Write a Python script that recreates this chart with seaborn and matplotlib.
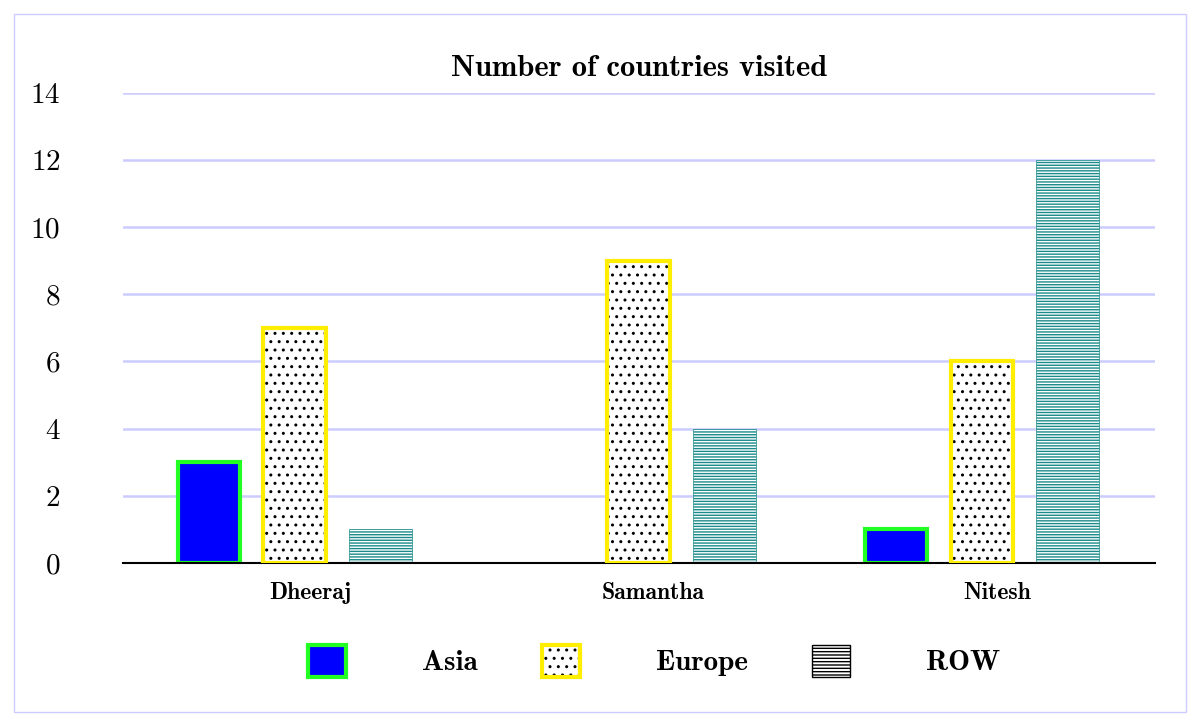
import matplotlib
matplotlib.use("Agg")
import matplotlib.pyplot as plt
import seaborn as sns
import pandas as pd
from matplotlib.patches import Patch, Rectangle

people = ["Dheeraj", "Samantha", "Nitesh"]
regions = ["Asia", "Europe", "ROW"]
asia = [3, 0, 1]
europe = [7, 9, 6]
row = [1, 4, 12]

df = pd.DataFrame({
    "person": people * 3,
    "region": ["Asia"] * 3 + ["Europe"] * 3 + ["ROW"] * 3,
    "count": asia + europe + row,
})

sns.set_style("white")
plt.rcParams["font.family"] = ["cmr10", "DejaVu Serif"]
plt.rcParams["axes.formatter.use_mathtext"] = True
plt.rcParams["hatch.linewidth"] = 1.0
plt.rcParams["text.color"] = "black"
plt.rcParams["xtick.color"] = "black"
plt.rcParams["ytick.color"] = "black"

fig = plt.figure(figsize=(12, 7.26), dpi=100)
ax = fig.add_axes([0.1025, 0.2245, 0.86, 0.648])

sns.barplot(data=df, x="person", y="count", hue="region", order=people,
            hue_order=regions, width=0.75, gap=0.27, legend=False, ax=ax,
            errorbar=None)

styles = {
    "Asia": dict(face="#0000ff", edge="#22ff22", hatch=None),
    "Europe": dict(face="white", edge="#ffee00", hatch=".."),
    "ROW": dict(face="white", edge="#1a8a8a", hatch="------"),
}
for cont, reg in zip(ax.containers, regions):
    st = styles[reg]
    for p in cont:
        if p.get_height() == 0:
            p.set_visible(False)
            continue
        if reg == "Asia":
            p.set_facecolor(st["face"]); p.set_edgecolor(st["edge"]); p.set_linewidth(3)
        elif reg == "Europe":
            p.set_facecolor("white"); p.set_edgecolor("black"); p.set_linewidth(0)
            p.set_hatch(st["hatch"])
            ax.add_patch(Rectangle(p.get_xy(), p.get_width(), p.get_height(),
                                   fill=False, edgecolor=st["edge"], linewidth=3, zorder=3))
        else:
            p.set_facecolor("white"); p.set_edgecolor(st["edge"]); p.set_linewidth(0.5)
            p.set_hatch(st["hatch"])

ax.set_xlim(-0.5, 2.504)
ax.set_xticks([0.044, 1.044, 2.044], people)
ax.set_ylim(0, 14)
ax.set_yticks(range(0, 15, 2))
ax.yaxis.grid(True, color="#ccccff", linewidth=1.8)
ax.set_axisbelow(True)
for s in ["left", "right", "top"]:
    ax.spines[s].set_visible(False)
ax.spines["bottom"].set_color("black")
ax.spines["bottom"].set_linewidth(1.5)
ax.tick_params(axis="both", length=0, labelsize=21)
ax.tick_params(axis="y", pad=45)
ax.tick_params(axis="x", pad=14)
for lbl in ax.get_xticklabels():
    lbl.set_fontfamily(["cmb10", "DejaVu Serif"])
    lbl.set_fontsize(17)
ax.set_xlabel("")
ax.set_ylabel("")
ax.set_title("Number of countries visited", fontsize=22, family=["cmb10", "DejaVu Serif"],
             pad=12, color="black")

handles = [
    Patch(facecolor="#0000ff", edgecolor="#22ff22", linewidth=3),
    (Patch(facecolor="white", edgecolor="black", linewidth=0, hatch=".."),
     Patch(fill=False, edgecolor="#ffee00", linewidth=3)),
    Patch(facecolor="white", edgecolor="#1a8a8a", linewidth=1, hatch="-----"),
]
leg = fig.legend(handles, regions, loc="center", bbox_to_anchor=(0.545, 0.09), ncol=3,
                 frameon=False, handlelength=1.3, handleheight=1.3, columnspacing=2.2,
                 handletextpad=2.6, prop={"family": ["cmb10", "DejaVu Serif"], "size": 21})
leg.legend_handles[2].set_edgecolor("black")

fig.patches.append(Rectangle((0.012, 0.019), 0.976, 0.962, transform=fig.transFigure,
                             fill=False, edgecolor="#ccccff", linewidth=1))

fig.savefig("out.png", dpi=100)
